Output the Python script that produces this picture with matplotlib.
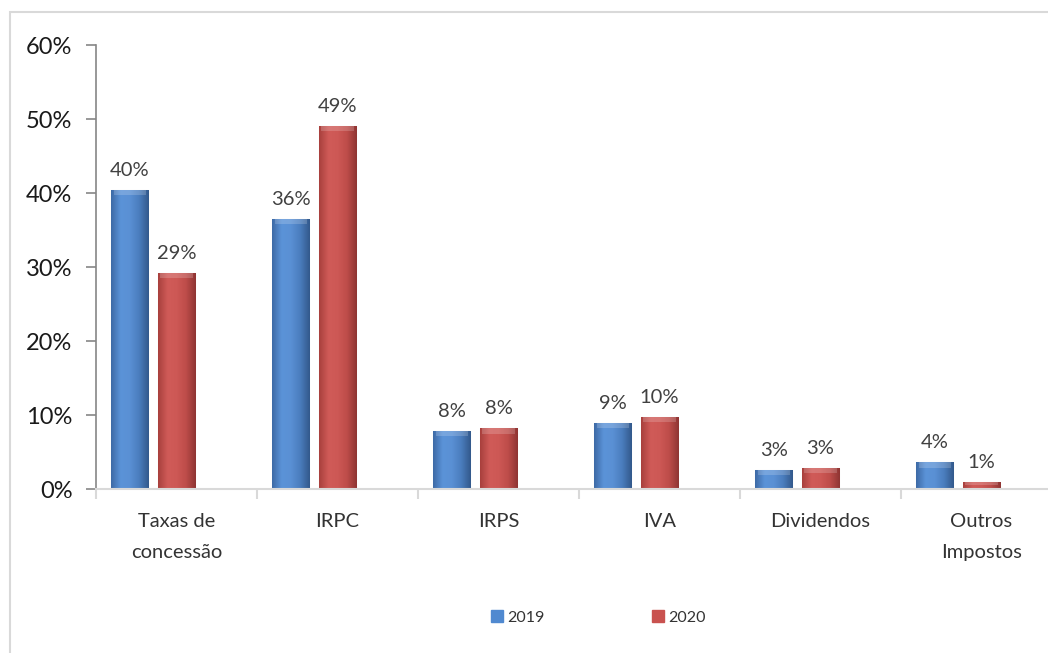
import numpy as np
import matplotlib
matplotlib.use("Agg")
import matplotlib.pyplot as plt
from matplotlib.patches import Rectangle
from matplotlib.lines import Line2D
from matplotlib.colors import LinearSegmentedColormap

categories = ["Taxas de\nconcessão", "IRPC", "IRPS", "IVA", "Dividendos", "Outros\nImpostos"]
series_names = ["2019", "2020"]
values_2019 = [40.4, 36.5, 7.8, 8.9, 2.6, 3.6]
values_2020 = [29.2, 49.1, 8.2, 9.7, 2.8, 0.9]
y_ticks = [0, 10, 20, 30, 40, 50, 60]

plt.rcParams['font.family'] = ['Lato', 'DejaVu Sans']

fig = plt.figure(figsize=(10.48, 6.53), dpi=100)
ax = fig.add_axes([96 / 1048, 1 - 489 / 653, 966 / 1048, 444 / 653])

# outer chart border (cropped on the right and bottom)
fig.patches.append(Rectangle((10 / 1048, -0.1), 1.2, 1.1 - 12 / 653,
                             transform=fig.transFigure, fill=False,
                             ec="#d9d9d9", lw=1.5, zorder=0))

# horizontal shading to mimic the bevelled bars
blue_cmap = LinearSegmentedColormap.from_list(
    "b", ["#3d6aa6", "#5b93d8", "#5a90d4", "#4a7dbd", "#33598c"])
red_cmap = LinearSegmentedColormap.from_list(
    "r", ["#a8403d", "#d05b58", "#cd5855", "#bd4c49", "#8f3533"])
grad = np.linspace(0, 1, 64).reshape(1, -1)

x = np.arange(len(categories))
width = 0.23
offsets = [-0.29, 0.0]
colors = ["#5089d0", "#c9524f"]
cmaps = [blue_cmap, red_cmap]

for vals, off, col, cm in zip([values_2019, values_2020], offsets, colors, cmaps):
    bars = ax.bar(x + off, vals, width, color=col, edgecolor="#e0e0e0",
                  lw=0.8, zorder=2)
    for b, v in zip(bars, vals):
        x0 = b.get_x()
        im = ax.imshow(grad, cmap=cm, aspect="auto", zorder=2.5,
                       extent=[x0, x0 + width, 0, v], interpolation="bicubic")
        im.set_clip_path(b)
        # light top cap
        cap = min(0.7, v * 0.4)
        ax.add_patch(Rectangle((x0 + 0.015, v - cap), width - 0.03, cap,
                               color="white", alpha=0.18, lw=0, zorder=2.6))
        ax.annotate(f"{v:.0f}%", (x0 + width / 2, v), xytext=(0, 8),
                    textcoords="offset points", ha="center", va="bottom",
                    fontsize=14.5, color="#404040")

ax.set_xlim(-0.5, len(categories) - 0.5)
ax.set_ylim(0, 60)
ax.set_yticks(y_ticks)
ax.set_yticklabels([f"{t}%" for t in y_ticks], fontsize=17, color="#1a1a1a")

# tick marks at the category boundaries, names in the middle
ax.set_xticks(np.arange(len(categories) + 1) - 0.5)
ax.set_xticklabels([])
ax.tick_params(axis="x", length=7, color="#d9d9d9", width=1.5)
for xi, name in zip(x, categories):
    ax.text(xi, -0.055, name, transform=ax.get_xaxis_transform(),
            ha="center", va="top", fontsize=14.5, color="#333333",
            linespacing=1.95)
ax.tick_params(axis="y", length=7, color="#868686", width=1.2, pad=10)

for s in ["top", "right"]:
    ax.spines[s].set_visible(False)
ax.spines["left"].set_color("#868686")
ax.spines["left"].set_linewidth(1.2)
ax.spines["bottom"].set_color("#d9d9d9")
ax.spines["bottom"].set_linewidth(1.5)

handles = [Line2D([], [], ls="", marker="s", markersize=8, color=c,
                  markeredgecolor=c) for c in colors]
fig.legend(handles, series_names, loc="center", bbox_to_anchor=(599 / 1048, 1 - 618 / 653),
           ncol=2, frameon=False, fontsize=11.5, handlelength=0.6,
           handletextpad=0.35, columnspacing=6.8, labelcolor="#333333")

fig.savefig("out.png", dpi=100)
